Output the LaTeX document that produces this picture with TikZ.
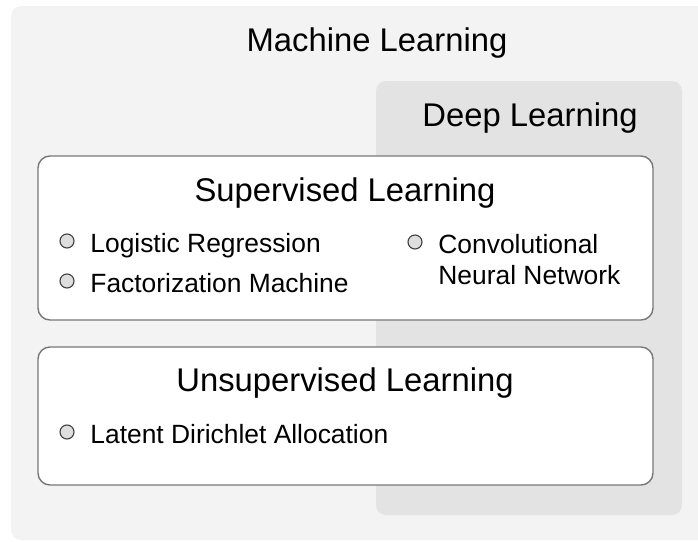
\documentclass[tikz,border=0pt]{standalone}
\usepackage{fontspec}
\setmainfont{Liberation Sans}
\usetikzlibrary{calc,positioning}
\tikzset{
  area-bg/.style={fill=mlgray, rounded corners=5pt},
  area-deep/.style={fill=dlgray, rounded corners=5pt},
  area-box/.style={fill=white, draw=boxline, line width=0.7pt, rounded corners=6pt},
  title-text/.style={inner sep=0pt, anchor=base, font=\fontsize{16.4pt}{19pt}\selectfont},
  item-text/.style={inner sep=0pt, anchor=base west, font=\fontsize{13.2pt}{15pt}\selectfont},
  item-dot/.style={circle, fill=dotfill, draw=black!75, line width=0.55pt, minimum size=7pt, inner sep=0pt}
}
\definecolor{mlgray}{RGB}{243,243,243}
\definecolor{dlgray}{RGB}{227,227,227}
\definecolor{boxline}{RGB}{120,120,120}
\definecolor{dotfill}{RGB}{222,222,222}

\begin{document}
\begin{tikzpicture}[x=0.5pt,y=-0.5pt]
  \useasboundingbox (0,0) rectangle (698,542);
  \clip (0,0) rectangle (698,542);
  % nested areas
  \fill[area-bg] (11,6) rectangle (720,540);
  \fill[area-deep] (376,81) rectangle (682,515);
  \draw[area-box] (38,156) rectangle (653,320);
  \draw[area-box] (38,347) rectangle (653,485);
  % titles
  \node[title-text] (ml) at (377,51) {Machine Learning};
  \node[title-text] (dl) at (530,126) {Deep Learning};
  \node[title-text] (sl) at (345,201) {Supervised Learning};
  \node[title-text] (ul) at (345,391) {Unsupervised Learning};
  % items with bullets
  \foreach \name/\x/\y/\txt in {lr/90/252/Logistic Regression,
      fm/90/292/Factorization Machine, cnn/438/253/Convolutional,
      lda/90/443/Latent Dirichlet Allocation} {
    \node[item-text] (\name) at (\x,\y) {\txt};
    \node[item-dot] (\name-dot) at ($(\name.base west)+(-23,-11)$) {};
  }
  \node[item-text] (cnn-2) at (438,284) {Neural Network};
\end{tikzpicture}
\end{document}
